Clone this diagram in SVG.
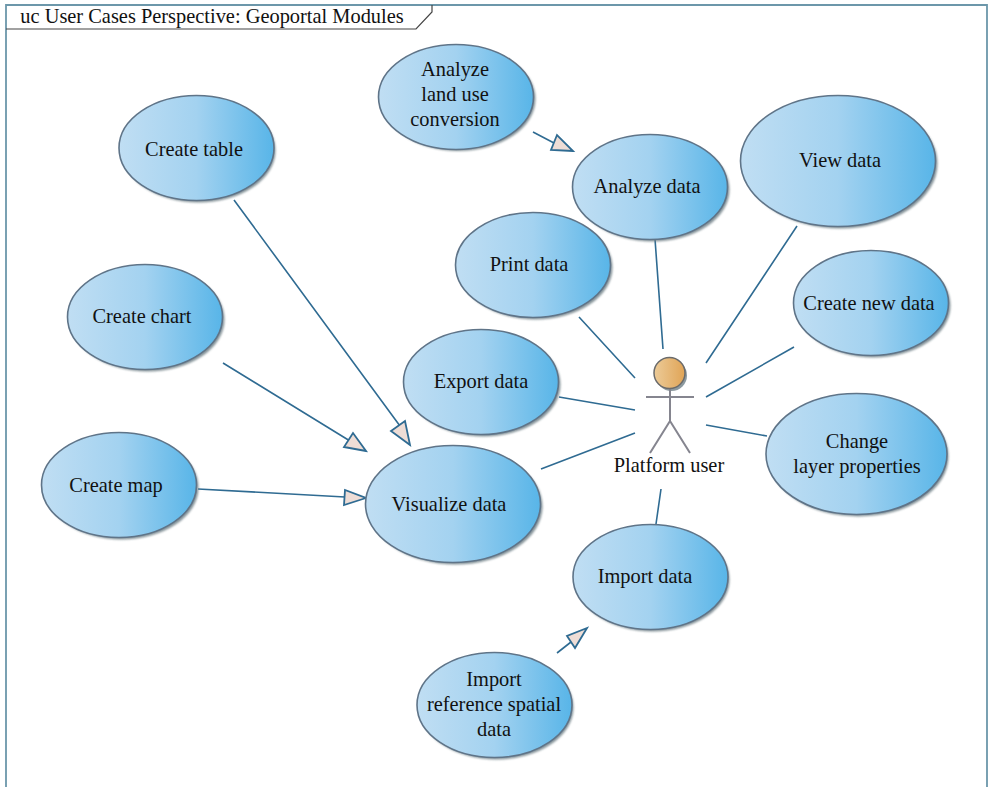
<svg xmlns="http://www.w3.org/2000/svg" width="990" height="787" viewBox="0 0 990 787">
<style>
text{font-family:"Liberation Serif","DejaVu Serif",serif;font-size:20.4px;fill:#111;text-anchor:middle}
.uc{fill:url(#g);stroke:#5f7488;stroke-width:1.6}
.sh{fill:#6f8087;opacity:.85;filter:url(#b)}
.c{stroke:#2f6b92;stroke-width:1.6;fill:none}
.h{fill:#eeddd6;stroke:#2f6b92;stroke-width:1.8;stroke-linejoin:miter}
.a{stroke:#85858f;stroke-width:2;fill:none}
</style>
<defs>
<linearGradient id="g" x1="0" x2="1" y1="0" y2="0"><stop offset="0" stop-color="#c0def3"/><stop offset=".5" stop-color="#a3d2f0"/><stop offset="1" stop-color="#58b5e8"/></linearGradient>
<linearGradient id="o" x1="0" x2="1" y1="0" y2="0"><stop offset="0" stop-color="#eccb98"/><stop offset="1" stop-color="#e0a456"/></linearGradient>
<filter id="b" x="-10%" y="-10%" width="120%" height="120%"><feGaussianBlur stdDeviation="0.8"/></filter>
</defs>
<rect width="990" height="787" fill="#fff"/>
<g id="frame">
<path d="M6 787V5H987V787" fill="none" stroke="#6c97aa" stroke-width="1.8"/>
<path d="M6 29H416L432 12V5" fill="none" stroke="#444" stroke-width="1.2"/>
<text x="212" y="23">uc User Cases Perspective: Geoportal Modules</text>
</g>
<g id="connectors">
<path class="c" d="M234 200L400 426M223 363L350 441M198 489L345 497M533 132L554 143M557 653L571 642M655 239L663 349M579 317L635 378M559 397L635 410M541 469L635 433M797 226L706 363M794 347L706 397M767 436L706 425M661 489L656 524"/>
<path class="h" d="M410 445L391 431L405 421ZM366 451L344 447L353 433ZM366 498L344 505L345 490ZM573 151L551 150L557 135ZM587 628L567 636L575 648Z"/>
</g>
<g id="uc1"><ellipse class="sh" cx="458.500" cy="99" rx="77" ry="52"/><ellipse class="uc" cx="456" cy="97" rx="77.500" ry="52.500"/><text x="455" y="76">Analyze</text><text x="455" y="101">land use</text><text x="455" y="126">conversion</text></g>
<g id="uc2"><ellipse class="sh" cx="198.500" cy="150.500" rx="77" ry="52"/><ellipse class="uc" cx="196.500" cy="148" rx="77.500" ry="52.500"/><text x="194" y="156">Create table</text></g>
<g id="uc3"><ellipse class="sh" cx="652.500" cy="189.500" rx="77" ry="52"/><ellipse class="uc" cx="650" cy="187" rx="77.500" ry="52.500"/><text x="647" y="193">Analyze data</text></g>
<g id="uc4"><ellipse class="sh" cx="840.500" cy="163.500" rx="97" ry="65"/><ellipse class="uc" cx="838" cy="161" rx="97.500" ry="65.500"/><text x="840" y="167">View data</text></g>
<g id="uc5"><ellipse class="sh" cx="535.500" cy="267.500" rx="77" ry="52"/><ellipse class="uc" cx="533" cy="265" rx="77.500" ry="52.500"/><text x="529" y="271">Print data</text></g>
<g id="uc6"><ellipse class="sh" cx="147.500" cy="319.500" rx="77" ry="52"/><ellipse class="uc" cx="145" cy="317" rx="77.500" ry="52.500"/><text x="142" y="323">Create chart</text></g>
<g id="uc7"><ellipse class="sh" cx="873.500" cy="305.500" rx="77" ry="52"/><ellipse class="uc" cx="871" cy="303" rx="77.500" ry="52.500"/><text x="869" y="310">Create new data</text></g>
<g id="uc8"><ellipse class="sh" cx="483.500" cy="384.500" rx="77" ry="52"/><ellipse class="uc" cx="481" cy="382" rx="77.500" ry="52.500"/><text x="481" y="388">Export data</text></g>
<g id="uc9"><ellipse class="sh" cx="858.500" cy="456.500" rx="90" ry="60"/><ellipse class="uc" cx="856.500" cy="454" rx="90.500" ry="60.500"/><text x="857" y="448">Change</text><text x="857" y="473">layer properties</text></g>
<g id="uc10"><ellipse class="sh" cx="455.500" cy="506.500" rx="87" ry="58"/><ellipse class="uc" cx="453" cy="504" rx="87.500" ry="58.500"/><text x="449" y="511">Visualize data</text></g>
<g id="uc11"><ellipse class="sh" cx="121.500" cy="487.500" rx="77" ry="52"/><ellipse class="uc" cx="119" cy="485" rx="77.500" ry="52.500"/><text x="116" y="492">Create map</text></g>
<g id="uc12"><ellipse class="sh" cx="652.500" cy="579.500" rx="77" ry="52"/><ellipse class="uc" cx="650.500" cy="577" rx="77.500" ry="52.500"/><text x="645" y="583">Import data</text></g>
<g id="uc13"><ellipse class="sh" cx="496.500" cy="707.500" rx="77" ry="52"/><ellipse class="uc" cx="494.500" cy="705" rx="77.500" ry="52.500"/><text x="494" y="686">Import</text><text x="494" y="711">reference spatial</text><text x="494" y="736">data</text></g>
<g id="actor">
<circle cx="671.500" cy="375.500" r="15.500" fill="#6f8087" opacity=".8"/>
<path class="a" d="M646 397H694M670 388V421M670 421L650 453M670 421L690 453"/>
<circle cx="669.500" cy="373" r="15.500" fill="url(#o)" stroke="#6b6b6b" stroke-width="1.500"/>
<text x="669" y="472">Platform user</text>
</g>
</svg>
